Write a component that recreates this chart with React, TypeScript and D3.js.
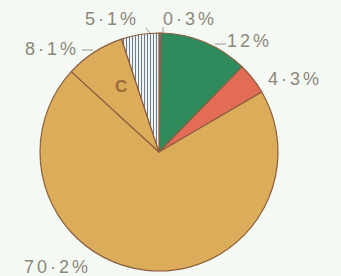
import React from "react";
import * as d3 from "d3";

const categories = ["0·3%", "12%", "4·3%", "70·2%", "8·1%", "5·1%"];
const values = [0.3, 12, 4.3, 70.2, 8.1, 5.1];
const fills = ["#4d8fc6", "#2f8a5c", "#e26c56", "#dbac5a", "#dbac5a", "url(#stripes)"];

const W = 341, H = 276;
const cx = 159, cy = 152, R = 119;

const labels = [
  { t: "0·3%", x: 163, y: 25 },
  { t: "12%", x: 227, y: 47 },
  { t: "4·3%", x: 268, y: 85 },
  { t: "70·2%", x: 24, y: 273 },
  { t: "8·1%", x: 25, y: 55 },
  { t: "5·1%", x: 85, y: 25 },
];
const leaders = [
  [163, 27, 163, 33],
  [215, 44, 226, 44],
  [82, 50, 93, 50],
  [146, 28, 150, 33],
];

export default function App() {
  const pie = d3.pie<number>().sort(null).value((d) => d).startAngle(0).endAngle(2 * Math.PI);
  const arcs = pie(values);
  const arc = d3.arc<d3.PieArcDatum<number>>().innerRadius(0).outerRadius(R);
  return (
    <svg width={W} height={H} style={{ position: "absolute", left: 0, top: 0, background: "#f4f9f3" }}>
      <defs>
        <pattern id="stripes" width="3" height="10" patternUnits="userSpaceOnUse">
          <rect width="3" height="10" fill="#eef3f4" />
          <rect x="0" width="0.9" height="10" fill="#5d6f7e" />
        </pattern>
      </defs>
      <rect width={W} height={H} fill="#f4f9f3" />
      <g transform={`translate(${cx},${cy})`}>
        {arcs.map((a, i) => (
          <path key={i} d={arc(a) || ""} fill={fills[i]} stroke="#8d5e3e" strokeWidth={1.2} strokeLinejoin="round" />
        ))}
      </g>
      {leaders.map((l, i) => (
        <line key={i} x1={l[0]} y1={l[1]} x2={l[2]} y2={l[3]} stroke="#9c9588" strokeWidth={1} />
      ))}
      {labels.map((l, i) => (
        <text key={i} x={l.x} y={l.y} fill="#8c877a" fontFamily="Liberation Sans, Arial, sans-serif" fontSize={18} letterSpacing={3}>
          {l.t}
        </text>
      ))}
      <text x={115} y={92} fill="#9a6a3c" fontFamily="Liberation Sans, Arial, sans-serif" fontSize={17} fontWeight="bold">C</text>
    </svg>
  );
}
